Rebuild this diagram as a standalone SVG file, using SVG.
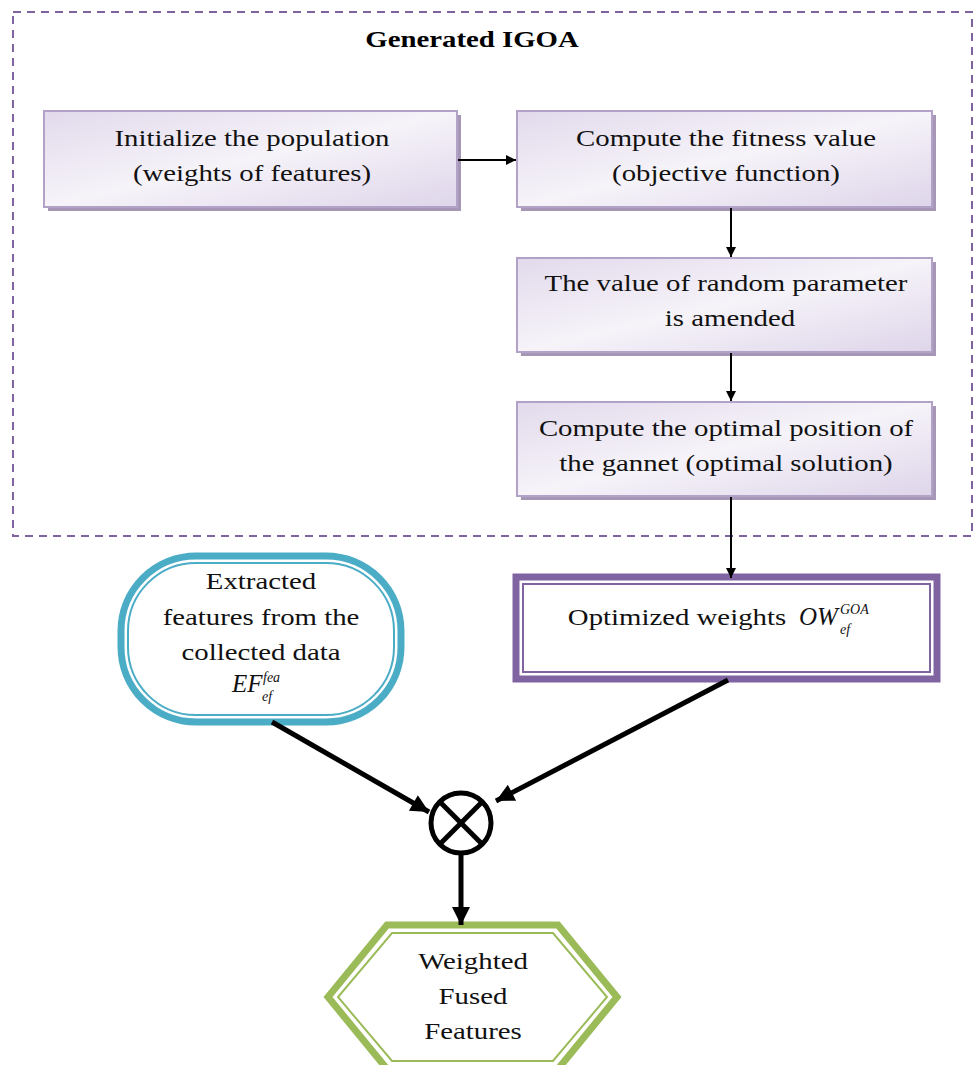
<svg xmlns="http://www.w3.org/2000/svg" width="976" height="1065" viewBox="0 0 976 1065">
<defs>
<linearGradient id="boxg" x1="0" y1="0" x2="1" y2="1">
<stop offset="0" stop-color="#E2DAEC"/>
<stop offset="0.5" stop-color="#F6F3F9"/>
<stop offset="1" stop-color="#DED5EA"/>
</linearGradient>
<marker id="ah" viewBox="0 0 10 10" refX="10" refY="5" markerWidth="6" markerHeight="5" orient="auto" markerUnits="strokeWidth">
<path d="M0,0 L10,5 L0,10 z" fill="#000"/>
</marker>
<marker id="ahb" viewBox="0 0 10 10" refX="10" refY="5" markerWidth="20" markerHeight="18" orient="auto" markerUnits="userSpaceOnUse">
<path d="M0,0 L10,5 L0,10 z" fill="#000"/>
</marker>
</defs>
<style>
.t{font-family:'Liberation Serif','Times New Roman','DejaVu Serif',serif;font-size:24px;fill:#111;text-anchor:middle}
.m{font-family:'Liberation Serif','Times New Roman','DejaVu Serif',serif;font-style:italic;fill:#111}
.box{fill:url(#boxg);stroke:#B3A2C8;stroke-width:2}
.sh{fill:#A597B5}
.thin{stroke:#000;stroke-width:2;fill:none}
.thick{stroke:#000;stroke-width:5;fill:none}
</style>
<rect x="13" y="12" width="959" height="524" fill="none" stroke="#8064A2" stroke-width="2" stroke-dasharray="8,6"/>
<text transform="translate(472,47) scale(1.2,1)" x="0" y="0" font-family="Liberation Serif, Times New Roman, DejaVu Serif, serif" font-weight="bold" font-size="24" fill="#000" text-anchor="middle">Generated IGOA</text>

<g id="n1">
<rect class="sh" x="48" y="115" width="413" height="96"/>
<rect class="box" x="44" y="111" width="413" height="96"/>
<text class="t" transform="translate(252,146) scale(1.2,1)">Initialize the population</text>
<text class="t" transform="translate(252,181) scale(1.2,1)">(weights of features)</text>
</g>
<g id="n2">
<rect class="sh" x="521" y="115" width="415" height="96"/>
<rect class="box" x="517" y="111" width="415" height="96"/>
<text class="t" transform="translate(726,146) scale(1.2,1)">Compute the fitness value</text>
<text class="t" transform="translate(726,181) scale(1.2,1)">(objective function)</text>
</g>
<g id="n3">
<rect class="sh" x="521" y="262" width="415" height="94"/>
<rect class="box" x="517" y="258" width="415" height="94"/>
<text class="t" transform="translate(726,291) scale(1.2,1)">The value of random parameter</text>
<text class="t" transform="translate(730,326) scale(1.2,1)">is amended</text>
</g>
<g id="n4">
<rect class="sh" x="521" y="406" width="415" height="94"/>
<rect class="box" x="517" y="402" width="415" height="94"/>
<text class="t" transform="translate(726,436) scale(1.2,1)">Compute the optimal position of</text>
<text class="t" transform="translate(726,471) scale(1.2,1)">the gannet (optimal solution)</text>
</g>

<g id="n5">
<rect x="516" y="577" width="421" height="102" fill="#fff" stroke="#8064A2" stroke-width="7"/>
<rect x="523" y="584" width="407" height="88" fill="none" stroke="#8064A2" stroke-width="2"/>
<text class="t" transform="translate(677,625) scale(1.2,1)">Optimized weights</text>
<text class="m" x="799" y="625" font-size="25">OW</text>
<text class="m" x="840" y="634" font-size="14">ef</text>
<text class="m" x="840" y="614" font-size="14">GOA</text>
</g>

<g id="n6">
<rect x="121" y="556" width="280" height="166" rx="75" ry="75" fill="#fff" stroke="#4BACC6" stroke-width="7"/>
<rect x="128" y="563" width="266" height="152" rx="68" ry="68" fill="none" stroke="#4BACC6" stroke-width="2"/>
<text class="t" transform="translate(261,589) scale(1.2,1)">Extracted</text>
<text class="t" transform="translate(261,625) scale(1.2,1)">features from the</text>
<text class="t" transform="translate(261,660) scale(1.2,1)">collected data</text>
<text class="m" x="232" y="692" font-size="25">EF</text>
<text class="m" x="262" y="701" font-size="14">ef</text>
<text class="m" x="263" y="682" font-size="14">fea</text>
</g>

<g id="n7">
<circle cx="461" cy="823" r="30" fill="#fff" stroke="#000" stroke-width="5"/>
<line x1="440" y1="802" x2="482" y2="844" stroke="#000" stroke-width="5"/>
<line x1="482" y1="802" x2="440" y2="844" stroke="#000" stroke-width="5"/>
</g>

<g id="n8">
<polygon points="387,925 558,925 617,997 558,1069 387,1069 328,997" fill="#fff" stroke="#9BBB59" stroke-width="7"/>
<polygon points="392,933 553,933 607,997 553,1061 392,1061 338,997" fill="none" stroke="#9BBB59" stroke-width="2"/>
<text class="t" transform="translate(473,969) scale(1.2,1)">Weighted</text>
<text class="t" transform="translate(473,1004) scale(1.2,1)">Fused</text>
<text class="t" transform="translate(473,1039) scale(1.2,1)">Features</text>
</g>

<g id="connectors">
<line class="thin" x1="458" y1="160" x2="516" y2="160" marker-end="url(#ah)"/>
<line class="thin" x1="731" y1="208" x2="731" y2="257" marker-end="url(#ah)"/>
<line class="thin" x1="731" y1="353" x2="731" y2="401" marker-end="url(#ah)"/>
<line class="thin" x1="731" y1="497" x2="731" y2="578" marker-end="url(#ah)"/>
<line class="thick" x1="272" y1="722" x2="429" y2="812" marker-end="url(#ahb)"/>
<line class="thick" x1="728" y1="680" x2="496" y2="801" marker-end="url(#ahb)"/>
<line class="thick" x1="461" y1="855" x2="461" y2="925" marker-end="url(#ahb)"/>
</g>
</svg>
